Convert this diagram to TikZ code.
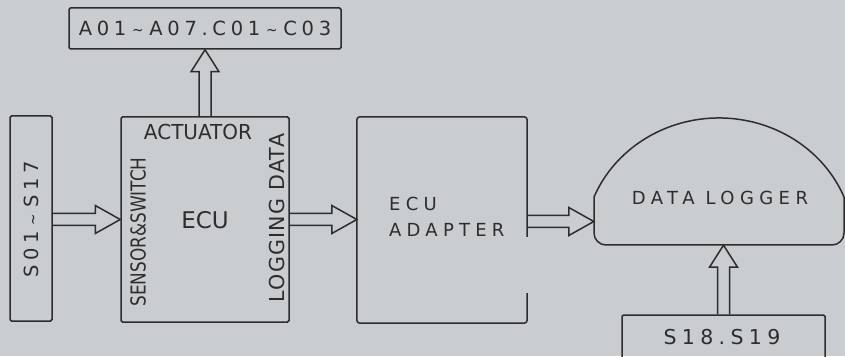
\documentclass[tikz,border=0pt]{standalone}
\usepackage{fontspec}
\usepackage{graphicx}
\setmainfont{DejaVu Sans}
\usetikzlibrary{calc}
\definecolor{bgc}{RGB}{201,205,208}
\definecolor{ink}{RGB}{45,45,47}
\newcommand\tld{\kern0.3em\scalebox{0.7}[0.8]{\char"7E\relax}\kern0.3em}
\newcommand\harr[2]{\draw[conn] let \p1=(#1), \p2=(#2) in
  (\x1,\y1+6pt) -- (\x2-25pt,\y1+6pt) -- (\x2-25pt,\y1+14pt) -- (\x2,\y1)
  -- (\x2-25pt,\y1-14pt) -- (\x2-25pt,\y1-6pt) -- (\x1,\y1-6pt);}
\newcommand\varr[2]{\draw[conn] let \p1=(#1), \p2=(#2) in
  (\x1-6pt,\y1) -- (\x1-6pt,\y2-22pt) -- (\x1-14pt,\y2-22pt) -- (\x1,\y2)
  -- (\x1+14pt,\y2-22pt) -- (\x1+6pt,\y2-22pt) -- (\x1+6pt,\y1);}
\tikzset{
  box/.style={draw=ink, line width=1.5pt, inner sep=0pt, rounded corners=1.5pt},
  conn/.style={draw=ink, line width=1.5pt, line join=miter},
  shape line/.style={draw=ink, line width=1.5pt, rounded corners=3pt},
  lbl/.style={text=ink, inner sep=0pt},
}
\begin{document}
\begin{tikzpicture}[x=1pt,y=1pt]
\useasboundingbox (0,0) rectangle (845,356);
\fill[bgc] (0,0) rectangle (845,356);
\clip (0,0) rectangle (845,356);

% boxes
\node[box, minimum width=272pt, minimum height=41pt] (aout) at (205,327.5) {};
\node[box, minimum width=42pt, minimum height=205pt] (s01) at (31,137.5) {};
\node[box, minimum width=168pt, minimum height=205pt] (ecu) at (205,136.5) {};
\node[inner sep=0pt, minimum width=170pt, minimum height=206pt] (adp) at (442,136) {};
\node[inner sep=0pt, minimum width=250pt, minimum height=134pt] (logger) at (719,178) {};
\node[box, minimum width=203pt, minimum height=60pt] (s18) at (723.5,11) {};

% ECU adapter outline (open on the right below the arrow)
\draw[shape line] ($(adp.east)+(0,-17)$) -- (adp.north east) -- (adp.north west)
  -- (adp.south west) -- (adp.south east) -- ($(adp.south east)+(0,30)$);

% data logger dome
\draw[draw=ink, line width=1.5pt] (594,159) -- (594,123) arc[start angle=180,end angle=270,radius=12]
  -- (832,111) arc[start angle=270,end angle=360,radius=12] -- (844,159)
  arc[start angle=22.2,end angle=157.8,x radius=135,y radius=127] -- cycle;

% connectors
\varr{ecu.north}{aout.south}
\harr{s01.east |- ecu.west}{ecu.west}
\harr{ecu.east}{adp.west}
\harr{$(adp.east)+(0,-1.5)$}{logger.west}
\varr{s18.north}{s18.north |- logger.south}

% labels
\node[lbl, font=\fontsize{19.5}{19.5}\selectfont\addfontfeature{LetterSpace=24}] (taout) at (aout) {A01\tld A07.C01\tld C03};
\node[lbl, rotate=90, font=\fontsize{19.5}{19.5}\selectfont\addfontfeature{LetterSpace=24}] (ts01) at (31,136.5) {S01\tld S17};
\node[lbl, font=\fontsize{20.6}{20.6}\selectfont] (tact) at (198,224) {\scalebox{0.97}[1]{ACTUATOR}};
\node[lbl, font=\fontsize{23}{23}\selectfont] (tecu) at (205,136) {ECU};
\node[lbl, rotate=90, font=\fontsize{20.6}{20.6}\selectfont] (tsen) at (138,124) {\scalebox{0.82}[1]{SENSOR\&SWITCH}};
\node[lbl, rotate=90, font=\fontsize{20.6}{20.6}\selectfont\addfontfeature{LetterSpace=6}] (tlog) at (277,138) {LOGGING DATA};
\node[lbl, anchor=west, font=\fontsize{18}{18}\selectfont\addfontfeature{LetterSpace=29}] (tadp1) at (389,152) {ECU};
\node[lbl, anchor=west, font=\fontsize{18}{18}\selectfont\addfontfeature{LetterSpace=29}] (tadp2) at (389,126) {ADAPTER};
\node[lbl, font=\fontsize{18}{18}\selectfont\addfontfeature{LetterSpace=30}] (tlg) at (720,158) {DATA LOGGER};
\node[lbl, font=\fontsize{20.5}{20.5}\selectfont\addfontfeature{LetterSpace=26}] (ts18) at (722,19) {S18.S19};
\end{tikzpicture}
\end{document}
